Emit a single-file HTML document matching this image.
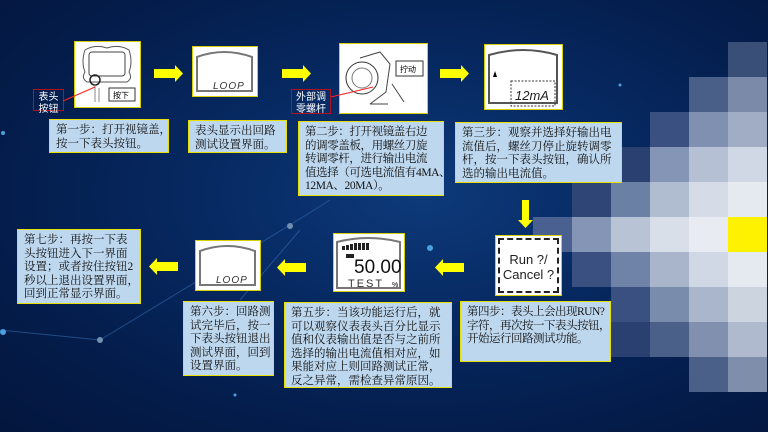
<!DOCTYPE html>
<html><head><meta charset="utf-8">
<style>
*{margin:0;padding:0;box-sizing:border-box}
body{width:768px;height:432px;overflow:hidden;position:relative;
background:radial-gradient(ellipse at 55% 45%,#0d3a7a 0%,#072a63 35%,#041d4c 70%,#03163d 100%);
font-family:"Liberation Serif","Noto Serif CJK SC",serif;}
.a{position:absolute}
.t{position:absolute;background:#bdd7ee;border:1.5px solid #e8e000;color:#111;font-size:11.5px;line-height:13.5px;padding:4px 4px 0 6px;white-space:nowrap;overflow:hidden;letter-spacing:0}
.img{position:absolute;background:#fff;border:1.5px solid #d8d000}
.cell{position:absolute;width:39px;height:35px}
.lbl{position:absolute;border:1.5px solid #b01020;color:#fff;font-size:10px;line-height:12px;text-align:center;font-family:"Liberation Sans","Noto Sans CJK SC",sans-serif;padding-top:2px;white-space:nowrap}
</style></head><body>
<svg class="a" style="left:0;top:0" width="768" height="432">
<g stroke="#3a78c0" stroke-width="1" opacity="0.5">
<line x1="0" y1="330" x2="100" y2="340"/><line x1="100" y1="340" x2="290" y2="225"/><line x1="290" y1="225" x2="330" y2="200"/>
<line x1="650" y1="195" x2="560" y2="180"/><line x1="650" y1="195" x2="600" y2="250"/><line x1="650" y1="195" x2="700" y2="150"/>
<line x1="240" y1="300" x2="300" y2="230"/>
</g>
<g fill="#4aa0e0"><circle cx="228" cy="79" r="2"/><circle cx="3" cy="133" r="2"/><circle cx="290" cy="226" r="3" fill="#7090b0"/><circle cx="100" cy="340" r="3" fill="#7090b0"/><circle cx="3" cy="332" r="3"/><circle cx="430" cy="248" r="3"/><circle cx="235" cy="395" r="1.5"/><circle cx="620" cy="85" r="1.5"/></g>
</svg>
<div class="cell" style="left:728px;top:42px;background:#3a4f78"></div>
<div class="cell" style="left:689px;top:77px;background:#4a5f88"></div><div class="cell" style="left:728px;top:77px;background:#7a8aa8"></div>
<div class="cell" style="left:650px;top:112px;background:#3a5080"></div><div class="cell" style="left:689px;top:112px;background:#8090b0"></div><div class="cell" style="left:728px;top:112px;background:#a0adc5"></div>
<div class="cell" style="left:611px;top:147px;background:#2a4070"></div><div class="cell" style="left:650px;top:147px;background:#8595b5"></div><div class="cell" style="left:689px;top:147px;background:#b5c0d5"></div><div class="cell" style="left:728px;top:147px;background:#d0d8e5"></div>
<div class="cell" style="left:572px;top:182px;background:#2f4575"></div><div class="cell" style="left:611px;top:182px;background:#6a80a5"></div><div class="cell" style="left:650px;top:182px;background:#b0bcd0"></div><div class="cell" style="left:689px;top:182px;background:#d5dce8"></div><div class="cell" style="left:728px;top:182px;background:#e5e9f0"></div>
<div class="cell" style="left:533px;top:217px;background:#4a6090"></div><div class="cell" style="left:572px;top:217px;background:#8595b5"></div><div class="cell" style="left:611px;top:217px;background:#b8c3d5"></div><div class="cell" style="left:650px;top:217px;background:#d8dfe8"></div><div class="cell" style="left:689px;top:217px;background:#e8ecf2"></div><div class="cell" style="left:728px;top:217px;background:#fff200"></div>
<div class="cell" style="left:572px;top:252px;background:#3a5080"></div><div class="cell" style="left:611px;top:252px;background:#6f82a8"></div><div class="cell" style="left:650px;top:252px;background:#a8b5cb"></div><div class="cell" style="left:689px;top:252px;background:#d0d8e5"></div><div class="cell" style="left:728px;top:252px;background:#e5e9f0"></div>
<div class="cell" style="left:611px;top:287px;background:#3a5080"></div><div class="cell" style="left:650px;top:287px;background:#7a8cab"></div><div class="cell" style="left:689px;top:287px;background:#aab6cc"></div><div class="cell" style="left:728px;top:287px;background:#ccd4e0"></div>
<div class="cell" style="left:611px;top:322px;background:#2a4070"></div><div class="cell" style="left:650px;top:322px;background:#4a6088"></div><div class="cell" style="left:689px;top:322px;background:#8090ae"></div><div class="cell" style="left:728px;top:322px;background:#b0bace"></div>
<div class="cell" style="left:689px;top:357px;background:#4a6088"></div><div class="cell" style="left:728px;top:357px;background:#7f8eab"></div>

<div class="img" style="left:74px;top:41px;width:67px;height:67px">
<svg width="64" height="64"><path d="M10 8 Q20 2 32 6 Q44 2 54 8 Q58 20 54 30 Q58 36 52 40 L12 40 Q6 36 10 30 Q6 20 10 8Z" fill="none" stroke="#555"/><rect x="14" y="10" width="36" height="24" rx="3" fill="none" stroke="#444"/><circle cx="20" cy="38" r="5" fill="none" stroke="#222" stroke-width="1.5"/><path d="M20 42 L20 60 M24 46 L24 60" stroke="#888"/><rect x="34" y="46" width="26" height="13" fill="#fff" stroke="#333"/><text x="38" y="56" font-size="8" font-family="Noto Sans CJK SC">按下</text></svg>
</div>
<div class="lbl" style="left:33px;top:89px;width:31px;height:22px;">表头<br>按钮</div>
<svg class="a" style="left:60px;top:85px" width="40" height="20"><line x1="35" y1="2" x2="3" y2="16" stroke="#ff2020"/></svg>
<div class="img" style="left:192px;top:46px;width:66px;height:51px"><svg width="63" height="48"><path d="M4 10 Q31 0 59 10 L59 44 L4 44Z" fill="none" stroke="#777" stroke-width="2"/><text x="20" y="42" font-size="10" font-style="italic" font-family="Liberation Sans" fill="#333" letter-spacing="1">LOOP</text></svg></div>
<div class="img" style="left:339px;top:43px;width:89px;height:71px"><svg width="86" height="68"><circle cx="22" cy="34" r="16" fill="none" stroke="#333"/><circle cx="22" cy="34" r="10" fill="none" stroke="#777"/><path d="M20 14 L40 8 L50 20 L46 48 L30 60 M30 60 L48 60" fill="none" stroke="#444"/><rect x="56" y="17" width="27" height="15" fill="#fff" stroke="#333"/><text x="60" y="28" font-size="8" font-family="Noto Sans CJK SC">拧动</text><line x1="52" y1="40" x2="64" y2="58" stroke="#444"/></svg></div>
<div class="lbl" style="left:291px;top:89px;width:40px;height:25px;">外部调<br>零螺杆</div>
<svg class="a" style="left:328px;top:85px" width="50" height="20"><line x1="45" y1="2" x2="3" y2="12" stroke="#ff2020"/></svg>
<div class="img" style="left:484px;top:44px;width:79px;height:66px"><svg width="76" height="63"><path d="M4 10 Q38 0 72 10 L72 58 L4 58Z" fill="none" stroke="#555" stroke-width="2"/><polygon points="8,32 10,26 12,32" fill="#000"/><rect x="26" y="36" width="44" height="25" fill="none" stroke="#333" stroke-dasharray="2,1.5"/><text x="30" y="55" font-size="13" font-style="italic" font-family="Liberation Sans" fill="#222">12mA</text></svg></div>
<svg class="a" style="left:0;top:0" width="768" height="432"><g fill="#ffff00">
<polygon points="154,69 175,69 175,65 183,73.5 175,82 175,78 154,78"/>
<polygon points="282,69 303,69 303,65 311,73.5 303,82 303,78 282,78"/>
<polygon points="440,69 461,69 461,65 469,73.5 461,82 461,78 440,78"/>
<polygon points="522,200 529,200 529,220 533,220 525.5,228 518,220 522,220"/>
<polygon points="464,263 443,263 443,259 435,267.5 443,276 443,272 464,272"/>
<polygon points="306,263 285,263 285,259 277,267.5 285,276 285,272 306,272"/>
<polygon points="178,262 157,262 157,258 149,266.5 157,275 157,271 178,271"/>
</g></svg>
<div class="img" style="left:495px;top:235px;width:67px;height:61px;padding:2px"><div style="border:2px dashed #222;width:100%;height:100%;font-family:'Liberation Sans',sans-serif;font-size:13px;line-height:15px;text-align:center;padding-top:12px;color:#222">Run ?/<br>Cancel ?</div></div>
<div class="img" style="left:333px;top:233px;width:72px;height:59px"><svg width="69" height="56"><path d="M3 8 Q34 0 66 8 L66 54 L3 54Z" fill="none" stroke="#777" stroke-width="2"/><g fill="#222"><rect x="8" y="12" width="3" height="4"/><rect x="12" y="11" width="3" height="5"/><rect x="16" y="10" width="3" height="6"/><rect x="20" y="9" width="3" height="7"/><rect x="24" y="9" width="3" height="7"/><rect x="28" y="9" width="3" height="7"/><rect x="32" y="9" width="3" height="7"/><rect x="12" y="20" width="8" height="4"/></g><text x="20" y="39" font-size="19" font-family="Liberation Sans" fill="#111">50.00</text><text x="14" y="53" font-size="11" font-family="Liberation Sans" fill="#333" letter-spacing="2">TEST</text><text x="58" y="53" font-size="7" font-family="Liberation Sans">%</text></svg></div>
<div class="img" style="left:195px;top:240px;width:66px;height:51px"><svg width="63" height="48"><path d="M4 10 Q31 0 59 10 L59 44 L4 44Z" fill="none" stroke="#777" stroke-width="2"/><text x="20" y="42" font-size="10" font-style="italic" font-family="Liberation Sans" fill="#333" letter-spacing="1">LOOP</text></svg></div>

<div class="t" style="left:49px;top:119px;width:120px;height:34px">第一步：打开视镜盖，<br>按一下表头按钮。</div>
<div class="t" style="left:188px;top:120px;width:99px;height:33px">表头显示出回路<br>测试设置界面。</div>
<div class="t" style="left:298px;top:121px;width:146px;height:75px;letter-spacing:-0.4px">第二步：打开视镜盖右边<br>的调零盖板，用螺丝刀旋<br>转调零杆，进行输出电流<br>值选择（可选电流值有4MA、<br>12MA、20MA）。</div>
<div class="t" style="left:455px;top:122px;width:167px;height:61px">第三步：观察并选择好输出电<br>流值后，螺丝刀停止旋转调零<br>杆，按一下表头按钮，确认所<br>选的输出电流值。</div>
<div class="t" style="left:460px;top:301px;width:151px;height:61px;letter-spacing:-0.5px">第四步：表头上会出现RUN?<br>字符，再次按一下表头按钮，<br>开始运行回路测试功能。</div>
<div class="t" style="left:284px;top:302px;width:168px;height:86px">第五步：当该功能运行后，就<br>可以观察仪表表头百分比显示<br>值和仪表输出值是否与之前所<br>选择的输出电流值相对应，如<br>果能对应上则回路测试正常，<br>反之异常，需检查异常原因。</div>
<div class="t" style="left:183px;top:301px;width:91px;height:75px">第六步：回路测<br>试完毕后，按一<br>下表头按钮退出<br>测试界面，回到<br>设置界面。</div>
<div class="t" style="left:17px;top:229px;width:124px;height:75px">第七步：再按一下表<br>头按钮进入下一界面<br>设置；或者按住按钮2<br>秒以上退出设置界面，<br>回到正常显示界面。</div>
</body></html>
